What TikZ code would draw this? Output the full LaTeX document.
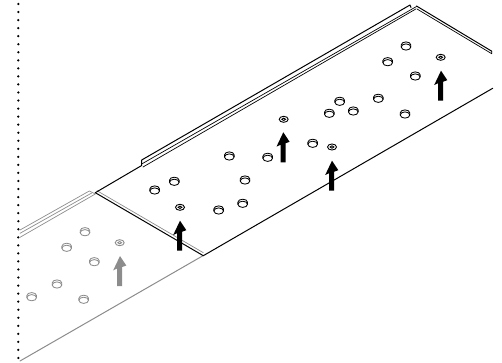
\documentclass[tikz,border=0pt]{standalone}
\tikzset{
  edge/.style={line width=1pt,line cap=round,line join=round},
  thin edge/.style={line width=0.7pt,line cap=round,line join=round},
  hole/.pic={
    \draw[line width=0.85pt,pic actions] (0,1.0) ellipse [x radius=4.8,y radius=3.1];
    \draw[line width=0.85pt,pic actions] (-4.8,1.0) -- (-4.8,-1.1) arc[start angle=180,end angle=360,x radius=4.8,y radius=3] -- (4.8,1.0);
  },
  target/.pic={
    \draw[line width=0.9pt,pic actions] (0,0) ellipse [x radius=4.5,y radius=3];
    \draw[line width=0.9pt,pic actions] (0,0) ellipse [x radius=1.9,y radius=1.2];
  },
  liftarrow/.pic={
    \fill[pic actions] (0,0) -- (6.3,9.5) -- (2.2,11) -- (2.2,30) -- (-2.8,30) -- (-2.8,12.5) -- (-6.8,14.3) -- cycle;
  }
}
\definecolor{fade}{gray}{0.55}
\begin{document}
\begin{tikzpicture}[x=1pt,y=-1pt]
\useasboundingbox (0,0) rectangle (502,363);
% dotted line
\foreach \k in {0,...,44} \fill (18.3,{4+8.045*\k}) circle (1.25);
% faded plate
\begin{scope}[draw=fade,color=fade]
  \draw[edge] (203.3,255.5) -- (20,361);
  \draw[thin edge] (20,230) -- (89.3,191) -- (95.3,194) -- (20,237.3);
  \draw[thin edge] (20,233.3) -- (91.7,193);
  \foreach \p in {(31.7,296.7),(57,284),(83.7,299.3),(94.3,261.7),(66.7,247.3),(85,231.7)}
    \pic[draw=fade,color=fade] at \p {hole};
  \pic[draw=fade,color=fade] at (119.7,242.7) {target};
  \pic[fill=fade] at (120,256) {liftarrow};
\end{scope}
% main plate
\draw[edge] (95.3,192.7) -- (203.3,255.7) -- (492.7,88.3);
\draw[thin edge,fade] (97,190.7) -- (203.3,252.7);
\draw[edge] (95.3,192.7) -- (141.7,165.5) -- (141.7,160) -- (410,5) -- (411,7.5);
\draw[thin edge] (141.7,164) -- (416.5,6.5);
\draw[thin edge] (143,167) -- (416,8.9);
\draw[edge] (416.5,6) -- (491.7,51.2);
\draw[thin edge] (417,9) -- (491.7,53.7) -- (491.7,51.2);
\foreach \p in {(154.7,190),(174.3,181.3),(218.7,210),(242.7,203.3),(245,180),(229.3,156),(267.7,157.3),(312.7,143.3),(329.3,113.3),(339.7,101.3),(353.3,111),(378.3,98.3),(405,114),(415.3,76),(387.7,61.7),(406,46)}
  \pic at \p {hole};
\foreach \p in {(180,207.3),(283.7,119.3),(332,147),(440.7,57.3)}
  \pic at \p {target};
\foreach \p in {(180,220.7),(283.3,132.3),(332,160.7),(441,70.7)}
  \pic[fill=black] at \p {liftarrow};
\end{tikzpicture}
\end{document}
